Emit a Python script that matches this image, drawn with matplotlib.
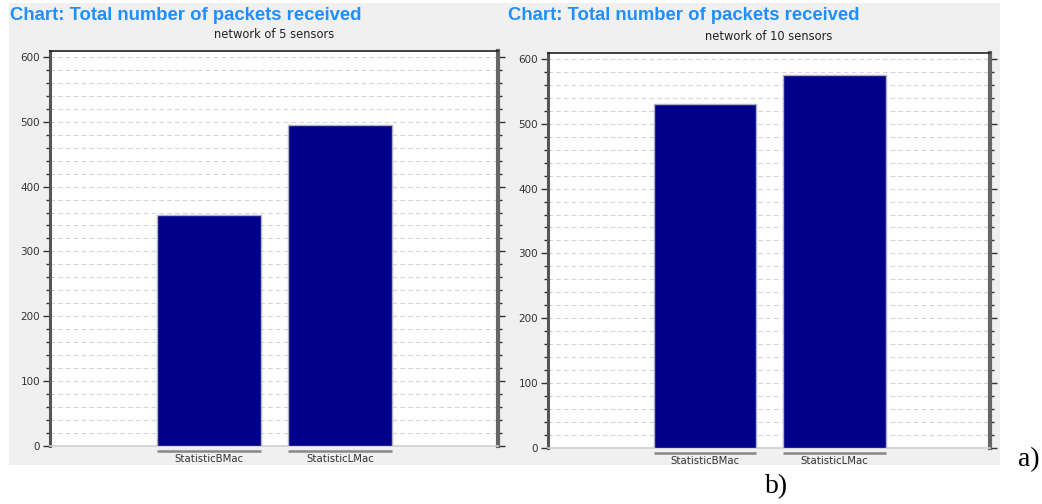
import matplotlib
matplotlib.use("Agg")
import matplotlib.pyplot as plt
from matplotlib.patches import Rectangle
from matplotlib.ticker import MultipleLocator
import matplotlib.transforms as mtransforms

categories = ["StatisticBMac", "StatisticLMac"]
values_5 = [356, 495]
values_10 = [531, 575]
chart_title = "Chart: Total number of packets received"
subtitles = ["network of 5 sensors", "network of 10 sensors"]
yticks = [0, 100, 200, 300, 400, 500, 600]

plt.rcParams['font.family'] = ['Liberation Sans', 'DejaVu Sans']
small_font = ["DejaVu Sans"]

W, H = 1042, 504
fig = plt.figure(figsize=(W / 100, H / 100), dpi=100)
fig.patch.set_facecolor("white")

# grey panel background
fig.patches.append(Rectangle((9 / W, 1 - 465 / H), (1000 - 9) / W, (465 - 3) / H,
                             transform=fig.transFigure, facecolor="#f0f0f0",
                             edgecolor="none", zorder=-10))

panels = [
    dict(rect=(50, 51, 498, 446), vals=values_5, sub=subtitles[0], title_x=10, xlim=(-1.214, 2.206)),
    dict(rect=(548, 53, 990, 448), vals=values_10, sub=subtitles[1], title_x=508, xlim=(-1.212, 2.2)),
]

for p in panels:
    x0, y0, x1, y1 = p["rect"]
    ax = fig.add_axes([x0 / W, 1 - y1 / H, (x1 - x0) / W, (y1 - y0) / H])
    ax.set_facecolor("white")
    xs = list(range(len(categories)))
    ax.bar(xs, p["vals"], width=0.79, color="#00008b", edgecolor="#b0b0c0", linewidth=1.0, zorder=3)
    ax.set_xlim(*p["xlim"])
    ax.set_ylim(0, 609)
    ax.yaxis.set_major_locator(MultipleLocator(100))
    ax.yaxis.set_minor_locator(MultipleLocator(20))
    ax.set_yticks(yticks)
    ax.set_yticklabels([str(v) for v in yticks], family=small_font)
    ax.grid(True, which="both", axis="y", color="#d4d4d4", linestyle=(0, (4, 3)), linewidth=0.8, zorder=1)
    ax.set_axisbelow(True)
    ax.set_xticks([])
    ax.tick_params(axis="y", which="major", length=5, width=1, color="#333333",
                   labelsize=7.5, labelcolor="#333333", left=True, right=True, direction="out", pad=2)
    ax.tick_params(axis="y", which="minor", length=3, width=1, color="#333333",
                   left=True, right=True, direction="out")
    ax.tick_params(axis="y", which="both", labelright=False)
    ax.spines["left"].set_linewidth(2.2)
    ax.spines["left"].set_color("#555555")
    ax.spines["right"].set_linewidth(3)
    ax.spines["right"].set_color("#666666")
    ax.spines["top"].set_linewidth(1.2)
    ax.spines["top"].set_color("#222222")
    ax.spines["bottom"].set_linewidth(1.2)
    ax.spines["bottom"].set_color("#d0d0d0")

    # category labels with a line above each
    trans = mtransforms.blended_transform_factory(ax.transData, ax.transAxes)
    for xi, cat in zip(xs, categories):
        ax.plot([xi - 0.395, xi + 0.395], [-0.012, -0.012], transform=trans, color="#888888",
                linewidth=1.8, clip_on=False, solid_capstyle="butt")
        ax.text(xi, -0.02, cat, transform=trans, ha="center", va="top", fontsize=7.3,
                color="#333333", clip_on=False, family=small_font)

    ax.text(0.5, 1 + 16 / (y1 - y0), p["sub"], transform=ax.transAxes, ha="center", va="center",
            fontsize=8.3, color="#222222", family=small_font)
    fig.text(p["title_x"] / W, 1 - 15 / H, chart_title, ha="left", va="center",
             fontsize=13.3, fontweight="bold", color="#1e8fff")

fig.text(1018 / W, 1 - 460 / H, "a)", ha="left", va="center", fontsize=20,
         family=["Liberation Serif", "DejaVu Serif"])
fig.text(777 / W, 1 - 487 / H, "b)", ha="center", va="center", fontsize=20,
         family=["Liberation Serif", "DejaVu Serif"])

fig.savefig("out.png", dpi=100)
